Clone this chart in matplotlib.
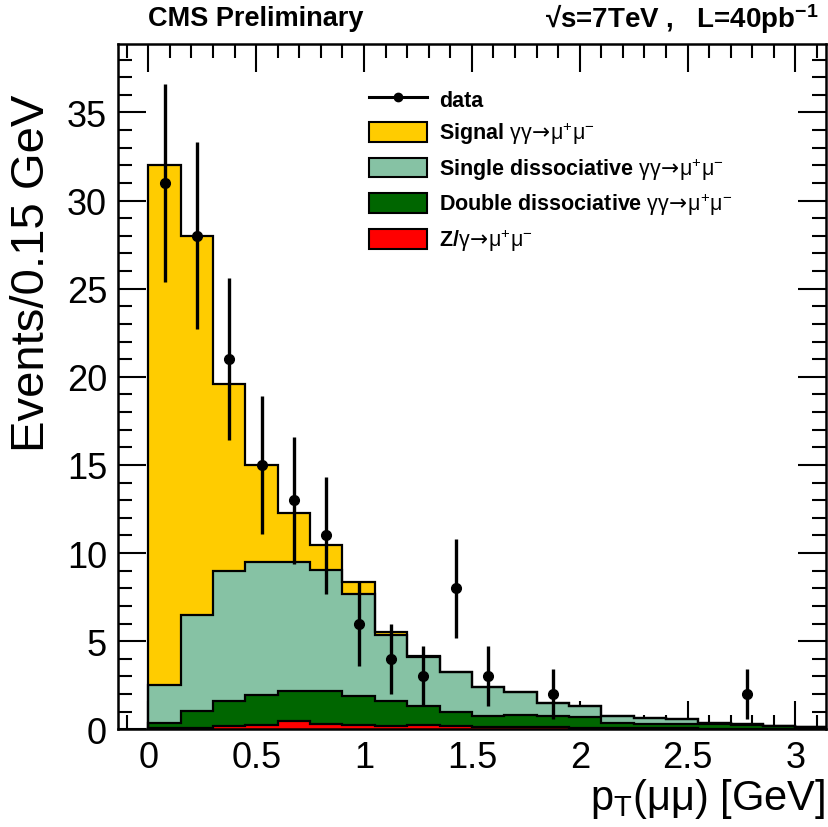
import matplotlib
matplotlib.use("Agg")
import matplotlib.pyplot as plt
from matplotlib.lines import Line2D
from matplotlib.patches import Patch
from matplotlib.ticker import MultipleLocator, FixedLocator
import numpy as np

plt.rcParams['font.family'] = ['Liberation Sans', 'DejaVu Sans']
plt.rcParams['mathtext.fontset'] = 'custom'
plt.rcParams['mathtext.rm'] = 'Liberation Sans'
plt.rcParams['mathtext.it'] = 'Liberation Sans:italic'
plt.rcParams['mathtext.bf'] = 'Liberation Sans:bold'
plt.rcParams['mathtext.sf'] = 'DejaVu Sans'

# ---- data (events per 0.15 GeV bin, 0 - 3.15 GeV) ----
edges = np.linspace(0, 3.15, 22)
z_gamma = [0.05, 0.1, 0.2, 0.25, 0.45, 0.3, 0.25, 0.2, 0.25, 0.2, 0.15,
           0.15, 0.15, 0.1, 0.05, 0.05, 0.05, 0.02, 0.02, 0.02, 0.02]
double_diss = [0.3, 0.95, 1.4, 1.7, 1.7, 1.85, 1.65, 1.4, 1.05, 0.8, 0.6,
               0.65, 0.6, 0.62, 0.3, 0.25, 0.25, 0.28, 0.23, 0.18, 0.13]
single_diss = [2.15, 5.45, 7.4, 7.55, 7.35, 6.9, 5.8, 3.75, 2.8, 2.25, 1.65,
               1.3, 0.75, 0.58, 0.4, 0.32, 0.3, 0.08, 0.05, 0.0, 0.0]
signal = [29.5, 21.5, 10.6, 5.5, 2.8, 1.4, 0.65, 0.15, 0.05, 0.0, 0.0,
          0.0, 0.0, 0.0, 0.0, 0.0, 0.0, 0.0, 0.0, 0.0, 0.0]

data_x = [0.075, 0.225, 0.375, 0.525, 0.675, 0.825, 0.975, 1.125, 1.275,
          1.425, 1.575, 1.875, 2.775]
data_y = [31, 28, 21, 15, 13, 11, 6, 4, 3, 8, 3, 2, 2]
data_err = [5.6, 5.3, 4.6, 3.9, 3.6, 3.3, 2.4, 2.0, 1.7, 2.8, 1.7, 1.4, 1.4]

xticks = [0, 0.5, 1, 1.5, 2, 2.5, 3]
xtick_labels = ['0', '0.5', '1', '1.5', '2', '2.5', '3']
yticks = [0, 5, 10, 15, 20, 25, 30, 35]

process = r'$\mathrm{\gamma\gamma\!\mathsf{\rightarrow}\!\mu^{+}\mu^{-}}$'
components = [
    (z_gamma, '#ff0000', r'Z/$\mathrm{\gamma\!\mathsf{\rightarrow}\!\mu^{+}\mu^{-}}$'),
    (double_diss, '#006600', 'Double dissociative ' + process),
    (single_diss, '#86c2a4', 'Single dissociative ' + process),
    (signal, '#ffcc00', 'Signal ' + process),
]

fig = plt.figure(figsize=(8.29, 8.28), dpi=100)
ax = fig.add_axes([0.1425, 0.118, 0.8535, 0.828])

# stacked histogram: draw cumulative tops from the largest down
tops = np.cumsum([np.array(c[0]) for c in components], axis=0)
for i in range(len(components) - 1, -1, -1):
    ax.stairs(tops[i], edges, baseline=0, fill=True, color=components[i][1], zorder=2)
    ax.stairs(tops[i], edges, baseline=0, fill=False, color='black', lw=1.6, zorder=3)

ax.errorbar(data_x, data_y, yerr=data_err, fmt='o', color='black', ms=7,
            elinewidth=2.4, capsize=0, zorder=5)

ax.set_xlim(-0.14, 3.14)
ax.set_ylim(0, 38.9)
ax.xaxis.set_major_locator(FixedLocator(xticks))
ax.set_xticklabels(xtick_labels)
ax.set_yticks(yticks)
ax.xaxis.set_minor_locator(MultipleLocator(0.1))
ax.yaxis.set_minor_locator(MultipleLocator(1))
ax.tick_params(which='both', direction='in', top=True, right=True, width=1.5,
               labelsize=26, zorder=6)
ax.tick_params(which='major', length=20)
ax.tick_params(which='minor', length=10)
ax.tick_params(axis='x', pad=8)
ax.tick_params(axis='y', pad=8)
for s in ax.spines.values():
    s.set_linewidth(1.8)
    s.set_zorder(6)

fig.text(0.996, 0.022, r'p$_{\mathrm{T}}$(μμ) [GeV]', fontsize=30,
         ha='right', va='baseline')
fig.text(0.039, 0.886, 'Events/0.15 GeV', fontsize=34, rotation=90,
         ha='center', va='top')

fig.text(0.178, 0.977, 'CMS Preliminary', fontsize=19.5, fontweight='bold',
         ha='left', va='center')
fig.text(0.987, 0.977, r'√s=7TeV ,   L=40pb$^{\mathbf{-1}}$', fontsize=20,
         fontweight='bold', ha='right', va='center')

handles = [Line2D([], [], color='black', lw=2.2, marker='o', ms=6)]
labels = ['data']
for vals, col, lab in components[::-1]:
    handles.append(Patch(facecolor=col, edgecolor='black', lw=1.5))
    labels.append(lab)
leg = ax.legend(handles, labels, loc='upper left', bbox_to_anchor=(0.445, 0.892),
                bbox_transform=fig.transFigure, frameon=False, borderpad=0,
                borderaxespad=0, handlelength=2.7, handleheight=1.05,
                handletextpad=0.55, labelspacing=0.42,
                prop={'size': 15.5, 'weight': 'bold'})
leg.set_zorder(7)

fig.savefig('out.png', dpi=100)
